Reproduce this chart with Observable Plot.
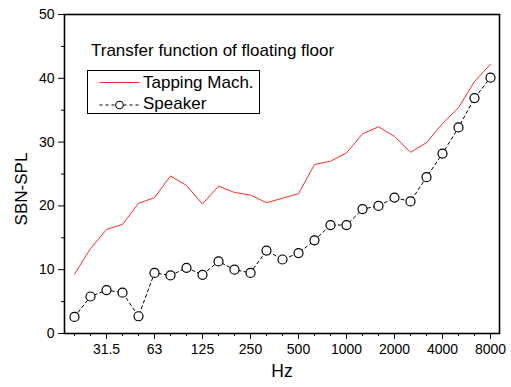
<!DOCTYPE html>
<html>
<head>
<meta charset="utf-8">
<script src="https://cdn.jsdelivr.net/npm/d3@7"></script>
<script src="https://cdn.jsdelivr.net/npm/@observablehq/plot@0.6"></script>
<style>
  html, body { margin: 0; padding: 0; background: #fff; }
  #wrap { position: relative; width: 511px; height: 387px; font-family: "Liberation Sans", Arial, sans-serif; }
  #title { position: absolute; left: 91px; top: 40.5px; font-size: 17px; color: #000; white-space: nowrap; line-height: normal; }
  #ylab { position: absolute; left: 21px; top: 189px; font-size: 17px; color: #000; white-space: nowrap; line-height: 1; transform: translate(-50%, -50%) rotate(-90deg); }
  #legend { position: absolute; left: 87px; top: 70px; width: 173px; height: 44px; border: 1px solid #000; box-sizing: border-box; }
  #legend svg { position: absolute; left: 0; top: 0; }
  .lg { position: absolute; left: 55px; font-size: 17px; white-space: nowrap; color: #000; line-height: normal; }
</style>
</head>
<body>
<div id="wrap">
  <div id="chart"></div>
  <div id="title">Transfer function of floating floor</div>
  <div id="ylab">SBN-SPL</div>
  <div id="legend">
    <svg width="171" height="42">
      <line x1="11.5" x2="51.5" y1="11.5" y2="11.5" stroke="#ff2a2a" stroke-width="1"></line>
      <line x1="11.5" x2="51.5" y1="34" y2="34" stroke="#000" stroke-width="1" stroke-dasharray="3,3"></line>
      <circle cx="31.5" cy="34" r="3.8" fill="#fff" stroke="#000" stroke-width="1.1"></circle>
    </svg>
    <div class="lg" style="top:1.5px">Tapping Mach.</div>
    <div class="lg" style="top:23px">Speaker</div>
  </div>
</div>
<script>
const freqs = [20,25,31.5,40,50,63,80,100,125,160,200,250,315,400,500,630,800,1000,1250,1600,2000,2500,3150,4000,5000,6300,8000];
const tapping = [9.3,13.3,16.3,17.1,20.4,21.3,24.7,23.2,20.3,23.1,22.1,21.7,20.5,21.2,21.9,26.5,27.0,28.3,31.3,32.4,30.9,28.4,29.9,32.9,35.4,39.5,42.2];
const speaker = [2.6,5.8,6.8,6.4,2.7,9.5,9.1,10.3,9.2,11.3,10.0,9.5,13.0,11.6,12.6,14.6,17.0,17.0,19.5,20.0,21.3,20.7,24.5,28.2,32.3,36.9,40.1];
const xTickLabels = [31.5,63,125,250,500,1000,2000,4000,8000];
const yMajor = [0,10,20,30,40,50];
const yMinor = [5,15,25,35,45];

const tapData = freqs.map((f, i) => ({f, v: tapping[i]}));
const spkData = freqs.map((f, i) => ({f, v: speaker[i]}));
const xMinor = freqs.filter(f => !xTickLabels.includes(f));

const chart = Plot.plot({
  width: 511,
  height: 387,
  marginLeft: 64,
  marginRight: 12,
  marginTop: 14,
  marginBottom: 54,
  x: {type: "point", domain: freqs, padding: 0.54},
  y: {domain: [0, 50]},
  style: {fontFamily: "'Liberation Sans', Arial, sans-serif", fontSize: "14px", color: "#000", background: "#fff"},
  marks: [
    Plot.axisX({ticks: xTickLabels, tickSize: 6, tickPadding: 4.5, tickFormat: d => String(d), label: null, fontSize: 14}),
    Plot.axisX({ticks: xMinor, tickSize: 3, tickFormat: () => "", label: null}),
    Plot.axisY({ticks: yMajor, tickSize: 6, tickPadding: 4, tickFormat: d => String(d), label: null, fontSize: 14}),
    Plot.axisY({ticks: yMinor, tickSize: 3, tickFormat: () => "", label: null}),
    Plot.line(tapData, {x: "f", y: "v", stroke: "#ff2a2a", strokeWidth: 1}),
    Plot.line(spkData, {x: "f", y: "v", stroke: "#000", strokeWidth: 1, strokeDasharray: "3,3"}),
    Plot.dot(spkData, {x: "f", y: "v", r: 4.5, fill: "#fff", stroke: "#000", strokeWidth: 1.2}),
    Plot.frame({stroke: "#000", strokeWidth: 1.6}),
    Plot.text(["Hz"], {frameAnchor: "bottom", dy: 43.5, fontSize: 17.5})
  ]
});
document.getElementById("chart").appendChild(chart);
</script>
</body>
</html>
